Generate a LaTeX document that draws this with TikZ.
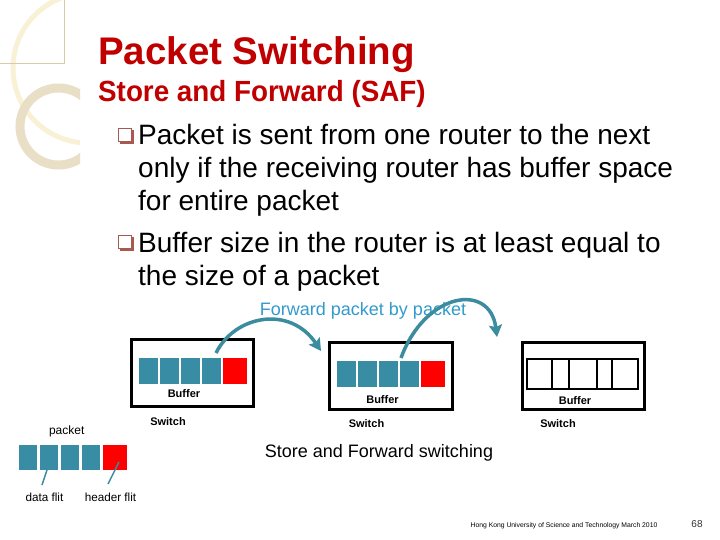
\documentclass[tikz,border=0pt]{standalone}
\usepackage{fontspec}
\setmainfont{Liberation Sans}
\usetikzlibrary{arrows.meta}
\definecolor{titlered}{HTML}{C00000}
\definecolor{flit}{HTML}{388DA5}
\definecolor{arrowteal}{HTML}{3C8C9F}
\definecolor{fwdblue}{HTML}{339ACD}
\definecolor{ringtan}{HTML}{E9DFC6}
\definecolor{paleyellow}{HTML}{F8F1D6}
\definecolor{recttan}{HTML}{D9CBAA}
\definecolor{bulletred}{HTML}{A85A50}
\tikzset{
  flitbox/.style={rectangle, fill=flit, draw=none, minimum width=19pt, minimum height=26pt, inner sep=0pt},
  hdrbox/.style={rectangle, fill=red, draw=none, minimum width=24pt, minimum height=26pt, inner sep=0pt},
  switchbox/.style={rectangle, draw=black, line width=3pt, inner sep=0pt},
  smallbold/.style={font=\fontsize{11}{12}\selectfont\bfseries, inner sep=0pt},
  smallreg/.style={font=\fontsize{12}{13}\selectfont, inner sep=0pt},
  bullettext/.style={font=\fontsize{28}{30}\selectfont, anchor=base west, inner sep=0pt},
  fwdarrow/.style={draw=arrowteal, line width=3.5pt, -{Stealth[length=12pt,width=13pt,inset=2pt]}},
  flitline/.style={draw=arrowteal, line width=1.5pt}
}
\newcommand{\qbullet}[2]{%
  \fill[bulletred] (#1+2,#2+2) rectangle (#1+16,#2+16);
  \filldraw[fill=white, draw=bulletred, line width=0.6pt] (#1,#2) rectangle (#1+13.5,#2+13.5);
}
\begin{document}
\begin{tikzpicture}[x=1pt,y=-1pt]
\useasboundingbox (0,0) rectangle (720,540);
\fill[white] (0,0) rectangle (720,540);
% decorations
\begin{scope}
  \clip (0,0) rectangle (80,540);
  \draw[paleyellow, line width=5pt] (88,68) circle (75);
  \draw[ringtan, line width=9pt] (58.5,126.5) circle (38.5);
\end{scope}
\draw[recttan, line width=0.6pt] (0,63) -- (64,63) -- (64,0);
% titles
\node[anchor=base west, inner sep=0pt, text=titlered, font=\fontsize{38.5}{40}\selectfont\bfseries] (title) at (98,65) {Packet Switching};
\node[anchor=base west, inner sep=0pt, text=titlered, font=\fontsize{27.8}{30}\selectfont\bfseries] (subtitle) at (98,102) {\scalebox{1}[1.05]{Store and Forward (SAF)}};
% bullets
\qbullet{118}{128}
\qbullet{118}{235}
\node[bullettext] (b1) at (138,145) {Packet is sent from one router to the next};
\node[bullettext] (b2) at (138,178) {only if the receiving router has buffer space};
\node[bullettext] (b3) at (138,211) {for entire packet};
\node[bullettext] (b4) at (138,252) {Buffer size in the router is at least equal to};
\node[bullettext] (b5) at (138,285) {the size of a packet};
% forward label
\node[text=fwdblue, font=\fontsize{18}{20}\selectfont, inner sep=0pt] (fwd) at (363,311) {Forward packet by packet};
% switch 1
\node[switchbox, minimum width=122pt, minimum height=67pt] (sw1) at (192,372.5) {};
\node[flitbox] (s1f1) at (148.5,371) {};
\node[flitbox] (s1f2) at (169.5,371) {};
\node[flitbox] (s1f3) at (190.5,371) {};
\node[flitbox] (s1f4) at (211.5,371) {};
\node[hdrbox] (s1h) at (235,371) {};
\node[smallbold] (buf1) at (184,394) {Buffer};
\node[smallbold] (swl1) at (168,422) {Switch};
% switch 2
\node[switchbox, minimum width=123pt, minimum height=67pt] (sw2) at (390.5,375.5) {};
\node[flitbox] (s2f1) at (346.5,374) {};
\node[flitbox] (s2f2) at (367.5,374) {};
\node[flitbox] (s2f3) at (388.5,374) {};
\node[flitbox] (s2f4) at (409.5,374) {};
\node[hdrbox] (s2h) at (433,374) {};
\node[smallbold] (buf2) at (382.5,399.5) {Buffer};
\node[smallbold] (swl2) at (366.5,424) {Switch};
% switch 3
\node[switchbox, minimum width=122pt, minimum height=67pt] (sw3) at (583,375.5) {};
\node[rectangle, draw=black, line width=2pt, minimum width=111pt, minimum height=30pt, inner sep=0pt] (buf3box) at (582.5,374) {};
\foreach \xx in {552,569,597,612} {\draw[line width=2pt] (\xx,359) -- (\xx,389);}
\node[smallbold] (buf3) at (575,400.5) {Buffer};
\node[smallbold] (swl3) at (558,424) {Switch};
% forward arrows
\coordinate (a1s) at (216,353);
\coordinate (a1e) at (321,351);
\coordinate (a2s) at (401,358);
\coordinate (a2e) at (497,337);
\draw[fwdarrow] (a1s) .. controls (235,315) and (290,305) .. (a1e);
\draw[fwdarrow] (a2s) .. controls (425,292) and (490,282) .. (a2e);
% caption
\node[font=\fontsize{18}{20}\selectfont, inner sep=0pt] (cap) at (379,453) {Store and Forward switching};
% bottom packet
\node[smallreg] (pkt) at (66.7,431) {packet};
\node[flitbox, minimum width=18pt, minimum height=25pt] (p1) at (28,457.5) {};
\node[flitbox, minimum width=18pt, minimum height=25pt] (p2) at (49,457.5) {};
\node[flitbox, minimum width=18pt, minimum height=25pt] (p3) at (70,457.5) {};
\node[flitbox, minimum width=18pt, minimum height=25pt] (p4) at (91,457.5) {};
\node[hdrbox, minimum height=25pt] (ph) at (115,457.5) {};
\node[font=\fontsize{11.7}{13}\selectfont, inner sep=0pt] (dfl) at (44.5,497) {data flit};
\node[font=\fontsize{11.7}{13}\selectfont, inner sep=0pt] (hfl) at (110.5,497) {header flit};
\coordinate (d1) at (47,470);
\coordinate (d2) at (42,485);
\coordinate (h1) at (119,462);
\coordinate (h2) at (108,484);
\draw[flitline] (d1) -- (d2);
\draw[flitline] (h1) -- (h2);
% footer
\node[font=\fontsize{6.8}{8}\selectfont, inner sep=0pt] (foot) at (564,526) {Hong Kong University of Science and Technology March 2010};
\node[font=\fontsize{10}{12}\selectfont, inner sep=0pt, text=black!80] (pg) at (697,524) {68};
\end{tikzpicture}
\end{document}
